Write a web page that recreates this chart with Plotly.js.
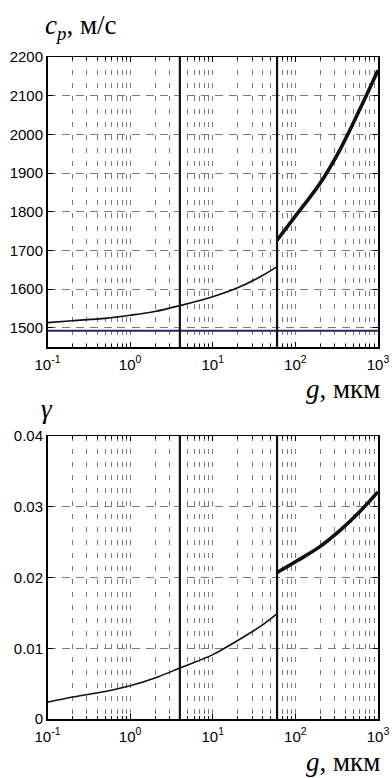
<!DOCTYPE html>
<html>
<head>
<meta charset="utf-8">
<script src="https://cdn.plot.ly/plotly-3.0.1.min.js"></script>
<style>html,body{margin:0;padding:0;background:#fff;}#chart{width:392px;height:778px;}</style>
</head>
<body>
<div id="chart"></div>
<script>
// ---- data ----
const xTickVals = [0.1, 1, 10, 100, 1000];
const xTickText = ['10<sup>-1</sup>', '10<sup>0</sup>', '10<sup>1</sup>', '10<sup>2</sup>', '10<sup>3</sup>'];
const cpTickVals = [1500, 1600, 1700, 1800, 1900, 2000, 2100, 2200];
const gammaTickVals = [0, 0.01, 0.02, 0.03, 0.04];
const gammaTickText = ['0', '0.01', '0.02', '0.03', '0.04'];
const boundaries = [4, 60];
const cpRef = 1492;

const gThin = [0.1, 0.2, 0.5, 1, 2, 4, 10, 20, 40, 60];
const cpThin = [1513, 1518, 1524, 1532, 1542, 1557, 1580, 1603, 1635, 1658];
const gammaThin = [0.00236, 0.0031, 0.0039, 0.0047, 0.0058, 0.0072, 0.0091, 0.0111, 0.0133, 0.0149];

const gThick = [60, 110, 200, 350, 600, 1000];
const cpThick = [1726, 1800, 1874, 1962, 2064, 2166];
const gammaThick = [0.0207, 0.0225, 0.0244, 0.0267, 0.0293, 0.0321];

// ---- layout helpers ----
const W = 392, H = 778;
const px = v => v / W;
const py = v => 1 - v / H;
const minorVals = [];
[0.1, 1, 10, 100].forEach(d => { for (let k = 2; k <= 9; k++) minorVals.push(d * k); });

const gridCol = '#7a7a7a';
const tickFont = {family: "'Liberation Sans', Arial, sans-serif", size: 15, color: '#000'};

function xAxis(anchor) {
  return {
    type: 'log', range: [-1, 3], domain: [px(47.5), px(378)], anchor: anchor,
    showline: true, linecolor: '#000', linewidth: 1.5, mirror: 'ticks',
    ticks: 'inside', ticklen: 5, tickcolor: '#000', tickwidth: 1,
    tickmode: 'array', tickvals: xTickVals, ticktext: xTickText,
    tickfont: tickFont, ticklabelstandoff: 3,
    showgrid: true, gridcolor: gridCol, gridwidth: 1, griddash: '5px,8px',
    minor: {tickmode: 'array', tickvals: minorVals, ticks: 'inside', ticklen: 3, tickcolor: '#000',
            showgrid: true, gridcolor: gridCol, gridwidth: 1, griddash: '5px,8px'},
    zeroline: false, fixedrange: true
  };
}
function yAxis(anchor, dom, range, vals, text) {
  const a = {
    domain: dom, range: range, anchor: anchor,
    showline: true, linecolor: '#000', linewidth: 1.5, mirror: 'ticks',
    ticks: 'inside', ticklen: 5, tickcolor: '#000',
    tickmode: 'array', tickvals: vals,
    tickfont: tickFont,
    showgrid: true, gridcolor: gridCol, gridwidth: 1, griddash: '8px,6px',
    zeroline: false, fixedrange: true
  };
  if (text) a.ticktext = text;
  return a;
}

const traces = [
  {x: [xTickVals[0], xTickVals[xTickVals.length - 1]], y: [cpRef, cpRef], xaxis: 'x', yaxis: 'y',
   mode: 'lines', line: {color: '#23285a', width: 2}, hoverinfo: 'skip'},
  {x: gThin, y: cpThin, xaxis: 'x', yaxis: 'y', mode: 'lines',
   line: {color: '#111', width: 1.6, shape: 'spline'}},
  {x: gThick, y: cpThick, xaxis: 'x', yaxis: 'y', mode: 'lines',
   line: {color: '#111', width: 3.6, shape: 'spline'}},
  {x: gThin, y: gammaThin, xaxis: 'x2', yaxis: 'y2', mode: 'lines',
   line: {color: '#111', width: 1.6, shape: 'spline'}},
  {x: gThick, y: gammaThick, xaxis: 'x2', yaxis: 'y2', mode: 'lines',
   line: {color: '#111', width: 3.6, shape: 'spline'}}
];

const shapes = [];
['x', 'x2'].forEach((xr, i) => {
  const yr = i === 0 ? 'y domain' : 'y2 domain';
  boundaries.forEach(b => shapes.push({type: 'line', xref: xr, yref: yr, x0: b, x1: b, y0: 0, y1: 1,
    line: {color: '#111', width: 2.2}}));
});

const serif = {family: "'Liberation Serif', 'Times New Roman', serif", size: 27, color: '#000'};
const annotations = [
  {text: '<i>c</i><sub><i>p</i></sub>, м/с', xref: 'paper', yref: 'paper', x: px(43), y: py(27),
   xanchor: 'left', yanchor: 'middle', showarrow: false, font: serif},
  {text: '<i>g</i>, мкм', xref: 'paper', yref: 'paper', x: px(382), y: py(389),
   xanchor: 'right', yanchor: 'middle', showarrow: false, font: serif},
  {text: '<i>γ</i>', xref: 'paper', yref: 'paper', x: px(39), y: py(409),
   xanchor: 'left', yanchor: 'middle', showarrow: false, font: serif},
  {text: '<i>g</i>, мкм', xref: 'paper', yref: 'paper', x: px(382), y: py(762),
   xanchor: 'right', yanchor: 'middle', showarrow: false, font: serif}
];

const layout = {
  width: W, height: H,
  margin: {l: 0, r: 0, t: 0, b: 0},
  paper_bgcolor: '#fff', plot_bgcolor: '#fff',
  showlegend: false,
  xaxis: xAxis('y'),
  yaxis: yAxis('x', [py(347), py(57)], [1450, 2200], cpTickVals, null),
  xaxis2: xAxis('y2'),
  yaxis2: yAxis('x2', [py(719), py(436)], [0, 0.04], gammaTickVals, gammaTickText),
  shapes: shapes,
  annotations: annotations
};

Plotly.newPlot('chart', traces, layout, {staticPlot: true, displayModeBar: false});
</script>
</body>
</html>
